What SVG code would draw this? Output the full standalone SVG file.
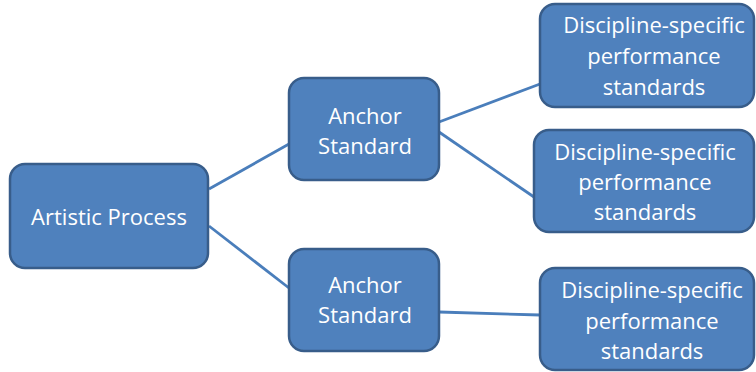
<svg xmlns="http://www.w3.org/2000/svg" width="756" height="372" viewBox="0 0 756 372">
<style>
.box{fill:#4F81BD;stroke:#385D8A;stroke-width:2.5}
.t{font-family:"Open Sans","Liberation Sans",sans-serif;font-size:22px;fill:#FFFFFF;text-anchor:middle}
.c{stroke:#4A7EBB;stroke-width:2.8;fill:none}
</style>
<rect width="756" height="372" fill="#FFFFFF"/>
<g id="connectors">
<line class="c" x1="209" y1="189" x2="289" y2="144"/>
<line class="c" x1="209" y1="226" x2="289" y2="288"/>
<line class="c" x1="439" y1="122" x2="540" y2="84"/>
<line class="c" x1="439" y1="132" x2="534" y2="197"/>
<line class="c" x1="439" y1="312" x2="540" y2="315"/>
</g>
<g id="artistic-process">
<rect class="box" x="10" y="164" width="198" height="104" rx="15"/>
<text class="t" x="109" y="225">Artistic Process</text>
</g>
<g id="anchor-1">
<rect class="box" x="289" y="78" width="150" height="102" rx="15"/>
<text class="t" x="365" y="124">Anchor</text>
<text class="t" x="365" y="154">Standard</text>
</g>
<g id="anchor-2">
<rect class="box" x="289" y="249" width="150" height="102" rx="15"/>
<text class="t" x="365" y="293">Anchor</text>
<text class="t" x="365" y="323">Standard</text>
</g>
<g id="discipline-1">
<rect class="box" x="540" y="4" width="214" height="103" rx="15"/>
<text class="t" x="654" y="33">Discipline-specific</text>
<text class="t" x="654" y="64">performance</text>
<text class="t" x="654" y="95">standards</text>
</g>
<g id="discipline-2">
<rect class="box" x="534" y="130" width="220" height="102" rx="15"/>
<text class="t" x="645" y="160">Discipline-specific</text>
<text class="t" x="645" y="190">performance</text>
<text class="t" x="645" y="220">standards</text>
</g>
<g id="discipline-3">
<rect class="box" x="540" y="268" width="214" height="102" rx="15"/>
<text class="t" x="652" y="298">Discipline-specific</text>
<text class="t" x="652" y="329">performance</text>
<text class="t" x="652" y="359">standards</text>
</g>
</svg>
